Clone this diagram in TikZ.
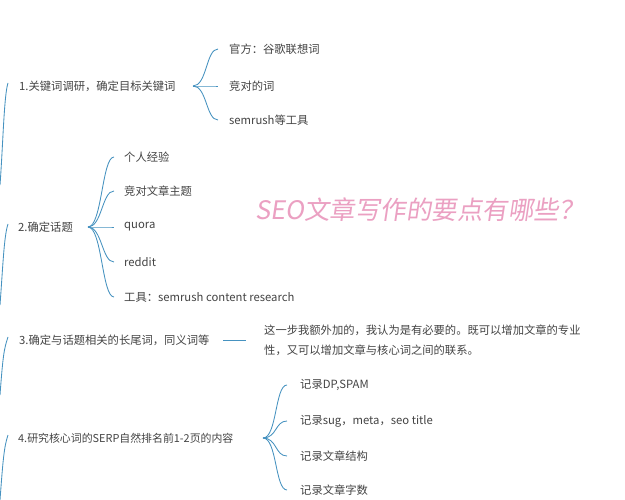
\documentclass[tikz,border=0pt]{standalone}
\usepackage{fontspec}
\usetikzlibrary{calc}
\setmainfont{Noto Sans CJK SC}
\newfontfamily\cjk{Noto Sans CJK SC}
\newfontfamily\cjkit[FakeSlant=0.15]{Noto Sans CJK SC}
\definecolor{txt}{HTML}{444444}
\definecolor{ln}{HTML}{4692C0}
\definecolor{pinkt}{HTML}{EBA0C2}
\begin{document}
\begin{tikzpicture}[x=1pt,y=-1pt,
  lab/.style={anchor=west,inner sep=0pt,text=txt,font=\cjk\fontsize{11.3}{14}\selectfont},
  labs/.style={lab,font=\cjk\fontsize{10.9}{14}\selectfont},
  link/.style={draw=ln,line width=0.85pt},
]
\useasboundingbox[fill=white] (0,0) rectangle (625,500);
% topic nodes
\node[lab] (t1) at (19,86) {1.关键词调研，确定目标关键词};
\node[lab] (t2) at (18,227) {2.确定话题};
\node[lab] (t3) at (19,340) {3.确定与话题相关的长尾词，同义词等};
\node[labs] (t4) at (18,438) {4.研究核心词的SERP自然排名前1-2页的内容};
% left stems
\coordinate (s1a) at (0,185); \coordinate (s1b) at (8,83);
\coordinate (s2a) at (0,305); \coordinate (s2b) at (8,224);
\coordinate (s3a) at (0,395); \coordinate (s3b) at (8,337);
\coordinate (s4a) at (0,500); \coordinate (s4b) at (8,435);
\foreach \i in {1,2,3,4}{
  \draw[link] (s\i a) .. controls ($(s\i a)+(3,-40)$) and ($(s\i b)+(-4,12)$) .. (s\i b);
}
% group 1
\coordinate (o1) at (193,86);
\node[lab] (c11) at (229,49) {官方：谷歌联想词};
\node[lab] (c12) at (229,86) {竞对的词};
\node[lab] (c13) at (229,120) {semrush等工具};
\coordinate (e11) at (218,49);
\coordinate (e12) at (218,86);
\coordinate (e13) at (218,120);
\foreach \j in {1,2,3}{ \draw[link] (o1) .. controls ($(o1)+(14,0)$) and ($(e1\j)+(-12,0)$) .. (e1\j); }
% group 2
\coordinate (o2) at (88,227);
\node[lab] (c21) at (124,157) {个人经验};
\node[lab] (c22) at (124,191) {竞对文章主题};
\node[lab] (c23) at (124,227) {quora};
\node[lab] (c24) at (124,262) {reddit};
\node[lab] (c25) at (124,297) {工具：semrush content research};
\coordinate (e21) at (114,157);
\coordinate (e22) at (114,191);
\coordinate (e23) at (114,227);
\coordinate (e24) at (114,262);
\coordinate (e25) at (114,297);
\foreach \j in {1,...,5}{ \draw[link] (o2) .. controls ($(o2)+(14,0)$) and ($(e2\j)+(-12,0)$) .. (e2\j); }
% group 3
\coordinate (o3) at (223,340);
\coordinate (e3) at (246,340);
\draw[link] (o3) -- (e3);
\node[lab,align=left,font=\cjk\fontsize{11.3}{20}\selectfont] (c31) at (264,340) {这一步我额外加的，我认为是有必要的。既可以增加文章的专业\\性，又可以增加文章与核心词之间的联系。};
% group 4
\coordinate (o4) at (263,438);
\node[lab] (c41) at (300,385) {记录DP,SPAM};
\node[lab] (c42) at (300,421) {记录sug，meta，seo title};
\node[lab] (c43) at (300,456) {记录文章结构};
\node[lab] (c44) at (300,490) {记录文章字数};
\coordinate (e41) at (287,385);
\coordinate (e42) at (287,421);
\coordinate (e43) at (287,456);
\coordinate (e44) at (287,490);
\foreach \j in {1,...,4}{ \draw[link] (o4) .. controls ($(o4)+(14,0)$) and ($(e4\j)+(-12,0)$) .. (e4\j); }
% title
\node[anchor=west,inner sep=0pt,text=pinkt,font=\cjkit\fontsize{25.5}{28}\selectfont] (title) at (255,210) {SEO文章写作的要点有哪些？};
\end{tikzpicture}
\end{document}
